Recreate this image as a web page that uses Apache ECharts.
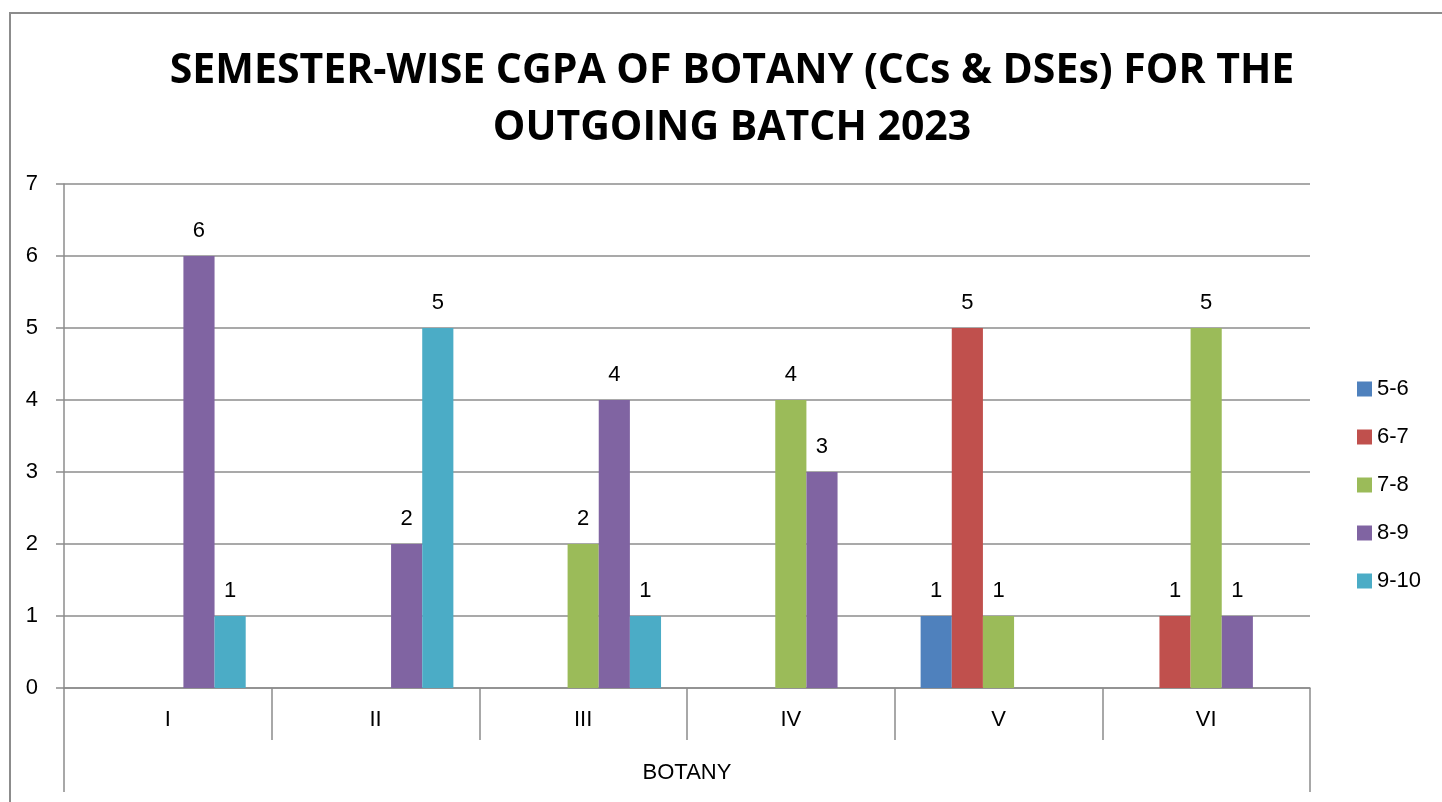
<!DOCTYPE html>
<html>
<head>
<meta charset="utf-8">
<script src="https://cdn.jsdelivr.net/npm/echarts@6/dist/echarts.min.js"></script>
<style>
  html, body { margin: 0; padding: 0; background: #fff; }
  #chart { width: 1442px; height: 802px; }
</style>
</head>
<body>
<div id="chart"></div>
<script>
// semesters along the x axis
var semesters = ['I', 'II', 'III', 'IV', 'V', 'VI'];
var groupName = ['BOTANY'];
// CGPA ranges (legend)
var ranges = ['5-6', '6-7', '7-8', '8-9', '9-10'];
var colors = ['#4F81BD', '#C0504D', '#9BBB59', '#8064A2', '#4BACC6'];
// number of students per semester, one array per CGPA range
var cgpa56 = [0, 0, 0, 0, 1, 0];
var cgpa67 = [0, 0, 0, 0, 5, 1];
var cgpa78 = [0, 0, 2, 4, 1, 5];
var cgpa89 = [6, 2, 4, 3, 0, 1];
var cgpa910 = [1, 5, 1, 0, 0, 0];
var yTicks = [0, 1, 2, 3, 4, 5, 6, 7];

var seriesData = [cgpa56, cgpa67, cgpa78, cgpa89, cgpa910];
var titleFont = '"Open Sans", "Liberation Sans", sans-serif';
var font = '"Liberation Sans", Arial, sans-serif';
var gray = '#8c8c8c';

var option = {
  animation: false,
  color: colors,
  title: {
    text: 'SEMESTER-WISE CGPA OF BOTANY (CCs & DSEs) FOR THE\nOUTGOING BATCH 2023',
    left: 727,
    textAlign: 'center',
    top: 38,
    textStyle: {
      fontFamily: titleFont,
      fontWeight: 'bold',
      fontSize: 41,
      lineHeight: 57,
      color: '#000'
    }
  },
  graphic: [{
    type: 'rect',
    shape: { x: 10, y: 13, width: 1600, height: 900 },
    style: { fill: 'none', stroke: gray, lineWidth: 2 },
    silent: true
  }],
  legend: {
    orient: 'vertical',
    left: 1352,
    top: 373,
    itemWidth: 15,
    itemHeight: 15,
    itemGap: 26,
    icon: 'rect',
    textStyle: { fontFamily: font, fontSize: 22, lineHeight: 22, color: '#000' },
    data: ranges
  },
  grid: { left: 64, right: 132, top: 184, bottom: 114, containLabel: false },
  xAxis: [{
    type: 'category',
    data: semesters,
    axisLine: { lineStyle: { color: gray, width: 1.5 } },
    axisTick: { show: true, interval: 0, length: 52, lineStyle: { color: gray, width: 1.5 } },
    axisLabel: { margin: 21, fontFamily: font, fontSize: 22, color: '#000' },
    splitLine: { show: false }
  }, {
    type: 'category',
    data: groupName,
    position: 'bottom',
    axisLine: { show: false },
    axisTick: { show: true, interval: 0, length: 104, lineStyle: { color: gray, width: 1.5 } },
    axisLabel: { margin: 74, fontFamily: font, fontSize: 22, color: '#000' },
    splitLine: { show: false }
  }],
  yAxis: {
    type: 'value',
    min: yTicks[0],
    max: yTicks[yTicks.length - 1],
    interval: 1,
    axisLine: { show: true, lineStyle: { color: gray, width: 1.5 } },
    axisTick: { show: true, length: 8, lineStyle: { color: gray, width: 1.5 } },
    axisLabel: { margin: 26, fontFamily: font, fontSize: 22, color: '#000' },
    splitLine: { lineStyle: { color: gray, width: 1.5 } }
  },
  series: ranges.map(function (name, i) {
    return {
      name: name,
      type: 'bar',
      xAxisIndex: 0,
      data: seriesData[i],
      barGap: '0%',
      barCategoryGap: '25%',
      label: {
        show: true,
        position: 'top',
        distance: 14,
        fontFamily: font,
        fontSize: 22,
        color: '#000',
        formatter: function (p) { return p.value === 0 ? '' : p.value; }
      }
    };
  })
};

echarts.init(document.getElementById('chart')).setOption(option);
</script>
</body>
</html>
